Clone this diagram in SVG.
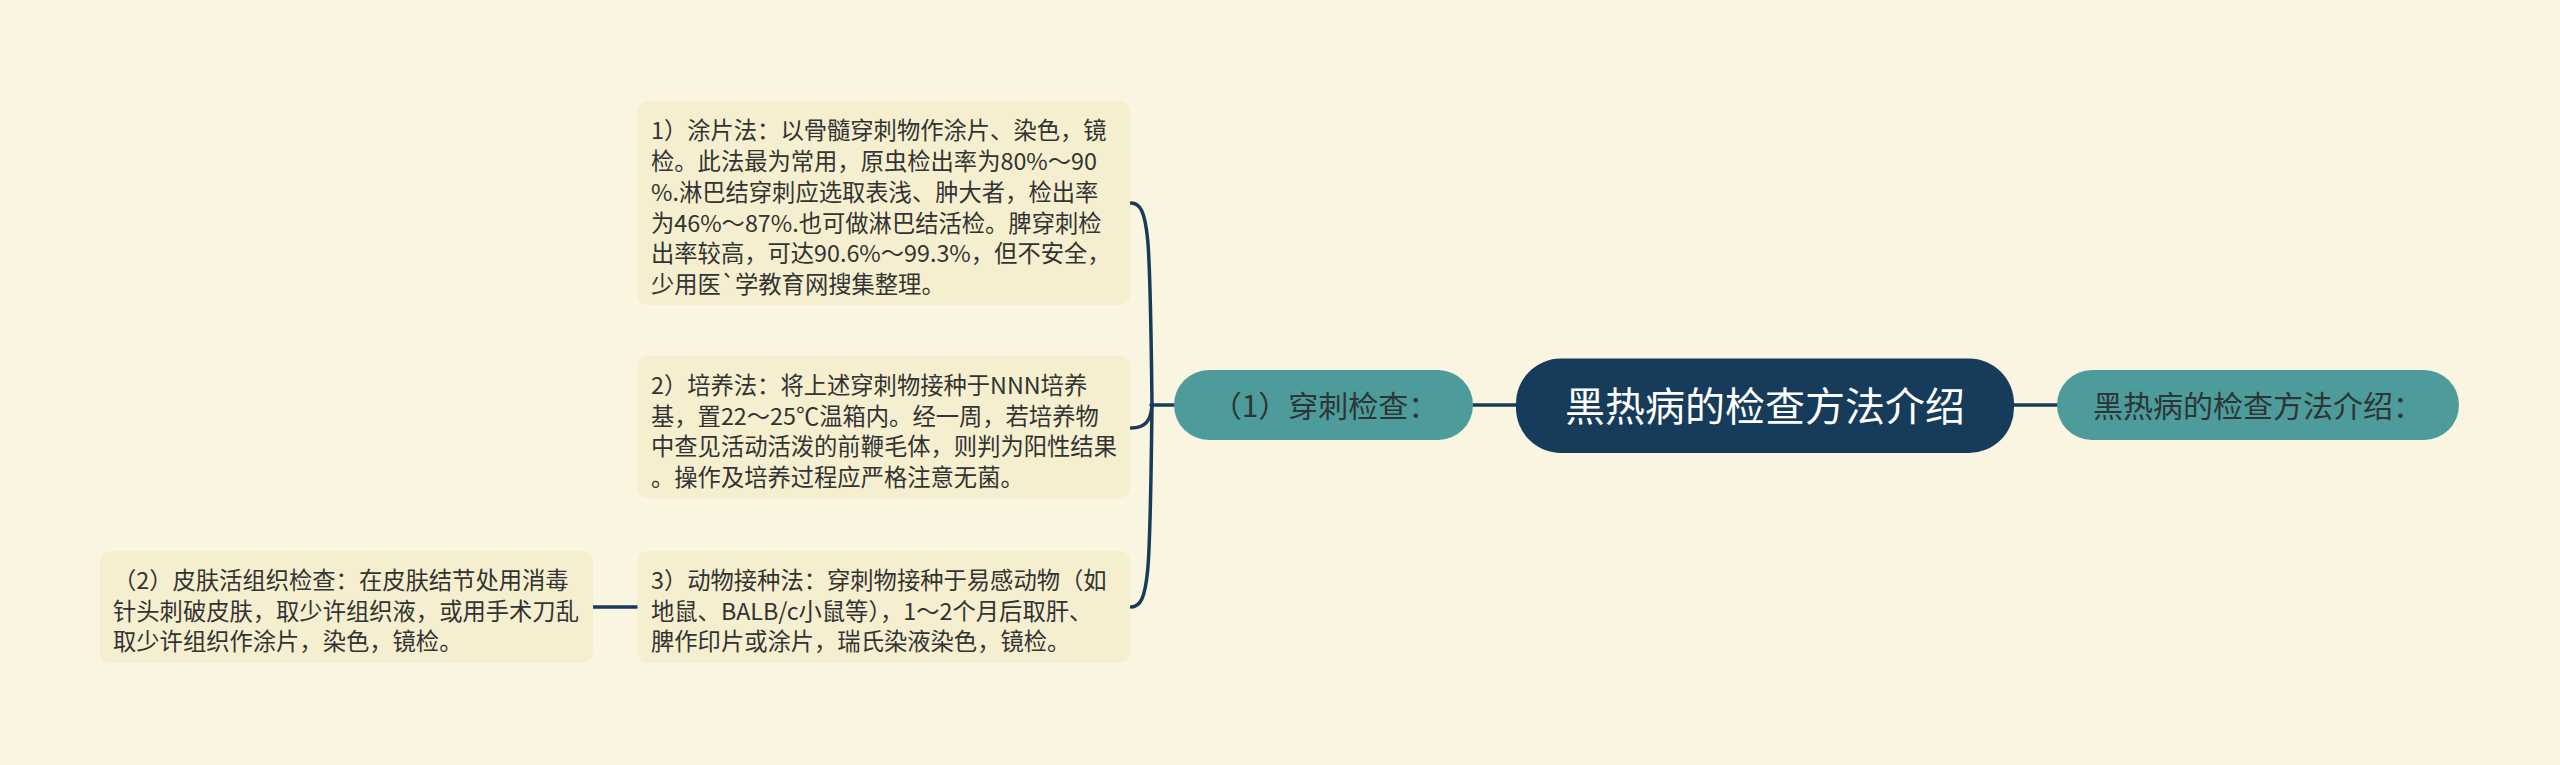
<svg xmlns="http://www.w3.org/2000/svg" width="2560" height="765" viewBox="0 0 2560 765">
<style>
.bg{fill:#faf5e1}
.box{fill:#f5efcf}
.txt{font-family:"Noto Sans CJK SC","Noto Sans",sans-serif;font-size:23.3px;fill:#333333}
.sub{fill:#4d9c9b}
.subt{font-family:"Noto Sans CJK SC","Noto Sans",sans-serif;font-size:30px;fill:#2d3535;text-anchor:middle}
.root{fill:#173c5b}
.roott{font-family:"Noto Sans CJK SC","Noto Sans",sans-serif;font-size:40px;fill:#ffffff;text-anchor:middle}
.conn{fill:none;stroke:#183b5a;stroke-width:3.5;stroke-linecap:round}
</style>
<rect class="bg" x="0" y="0" width="2560" height="765"/>
<g id="connectors">
<path class="conn" d="M2014 405 L2057 405"/>
<path class="conn" d="M1473 405 L1516 405"/>
<path class="conn" d="M1174 405 L1151 405"/>
<path class="conn" d="M1152 405 C1150 240 1150 203 1131 203"/>
<path class="conn" d="M1152 405 C1151 420 1146 428 1131 428"/>
<path class="conn" d="M1152 405 C1150 570 1150 607 1131 607"/>
<path class="conn" d="M593 607 L637 607"/>
</g>
<g id="root">
<rect class="root" x="1516" y="358.5" width="498" height="94.5" rx="45"/>
<text class="roott" x="1765" y="421">黑热病的检查方法介绍</text>
</g>
<g id="right">
<rect class="sub" x="2057" y="370" width="402" height="70" rx="35"/>
<text class="subt" x="2258" y="417">黑热病的检查方法介绍：</text>
</g>
<g id="puncture">
<rect class="sub" x="1174" y="370" width="299" height="70" rx="35"/>
<text class="subt" x="1325" y="417">（1）穿刺检查：</text>
</g>
<g id="smear">
<rect class="box" x="637.5" y="101.5" width="492.5" height="203.5" rx="10"/>
<text class="txt">
<tspan x="651" y="139.2">1）涂片法：以骨髓穿刺物作涂片、染色，镜</tspan>
<tspan x="651" y="170">检。此法最为常用，原虫检出率为80%～90</tspan>
<tspan x="651" y="200.8">%.淋巴结穿刺应选取表浅、肿大者，检出率</tspan>
<tspan x="651" y="231.6">为46%～87%.也可做淋巴结活检。脾穿刺检</tspan>
<tspan x="651" y="262.4">出率较高，可达90.6%～99.3%，但不安全，</tspan>
<tspan x="651" y="293.2">少用医`学教育网搜集整理。</tspan>
</text>
</g>
<g id="culture">
<rect class="box" x="637.5" y="356" width="492.5" height="142" rx="10"/>
<text class="txt">
<tspan x="651" y="393.7">2）培养法：将上述穿刺物接种于NNN培养</tspan>
<tspan x="651" y="424.5">基，置22～25℃温箱内。经一周，若培养物</tspan>
<tspan x="651" y="455.3">中查见活动活泼的前鞭毛体，则判为阳性结果</tspan>
<tspan x="651" y="486.1">。操作及培养过程应严格注意无菌。</tspan>
</text>
</g>
<g id="animal">
<rect class="box" x="637.5" y="551" width="492.5" height="112" rx="10"/>
<text class="txt">
<tspan x="651" y="588.7">3）动物接种法：穿刺物接种于易感动物（如</tspan>
<tspan x="651" y="619.5">地鼠、BALB/c小鼠等），1～2个月后取肝、</tspan>
<tspan x="651" y="650.3">脾作印片或涂片，瑞氏染液染色，镜检。</tspan>
</text>
</g>
<g id="skin">
<rect class="box" x="100" y="551" width="493" height="112" rx="10"/>
<text class="txt">
<tspan x="113" y="588.7">（2）皮肤活组织检查：在皮肤结节处用消毒</tspan>
<tspan x="113" y="619.5">针头刺破皮肤，取少许组织液，或用手术刀乱</tspan>
<tspan x="113" y="650.3">取少许组织作涂片，染色，镜检。</tspan>
</text>
</g>
</svg>
